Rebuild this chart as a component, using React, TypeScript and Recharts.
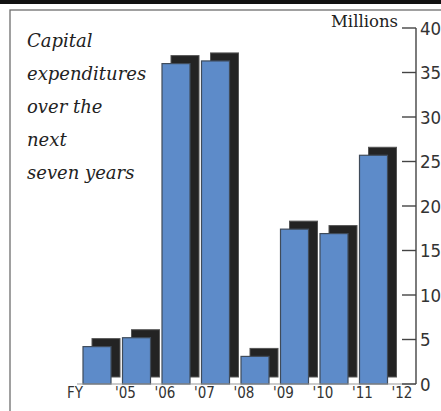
import React from "react";
import { BarChart, Bar, XAxis, YAxis } from "recharts";

const xLabels = ["FY", "'05", "'06", "'07", "'08", "'09", "'10", "'11", "'12"];
const capex = [4.2, 5.2, 36.0, 36.3, 3.1, 17.4, 16.9, 25.7];
const yTicks = [0, 5, 10, 15, 20, 25, 30, 35, 40];
const titleLines = ["Capital", "expenditures", "over the", "next", "seven years"];
const unitLabel = "Millions";

const data = capex.map((v, i) => ({ label: xLabels[i], value: v }));

const W = 441;
const H = 411;
const BLUE = "#5d8bc9";
const SHADOW = "#232323";

const ShadowBar = (props: any) => {
  const { x, y, width, height } = props;
  if (width == null || height == null) return null;
  return (
    <g>
      <rect x={x + 9} y={y - 8} width={width} height={height + 1} fill={SHADOW} stroke="#555" strokeWidth={1} />
      <rect x={x} y={y} width={width} height={height} fill={BLUE} stroke="#3f4b5a" strokeWidth={1.2} />
    </g>
  );
};

const XTick = (props: any) => {
  const { x, y, payload } = props;
  const half = payload && payload.offset ? payload.offset : 19.7;
  const idx = payload.index ?? 0;
  const start = x - half;
  const font = { fontSize: 15, fontFamily: "DejaVu Sans Condensed, DejaVu Sans", fill: "#333" };
  return (
    <g>
      {idx === 0 ? (
        <text x={start + 6} y={y + 14} textAnchor="end" {...font}>{xLabels[0]}</text>
      ) : (
        <text x={start + 9} y={y + 14} textAnchor="middle" {...font}>{xLabels[idx]}</text>
      )}
      {idx === capex.length - 1 ? (
        <text x={start + 2 * half + 9} y={y + 14} textAnchor="middle" {...font}>{xLabels[xLabels.length - 1]}</text>
      ) : null}
    </g>
  );
};

const YTick = (props: any) => {
  const { x, y, payload } = props;
  return (
    <g>
      <line x1={x - 14} x2={x} y1={y} y2={y} stroke="#444" strokeWidth={1.4} />
      <text x={x + 4} y={y} dy="0.36em" fontSize={18.5} fontFamily="DejaVu Sans Condensed, DejaVu Sans" fill="#333">
        {payload.value}
      </text>
    </g>
  );
};

export default function App() {
  return (
    <div style={{ position: "absolute", left: 0, top: 0, width: W, height: H, background: "#fff", overflow: "hidden" }}>
      <svg width={W} height={H} style={{ position: "absolute", left: 0, top: 0 }}>
        <rect x={0} y={0} width={W} height={4} fill="#111" />
        <rect x={10} y={10} width={W + 20} height={H + 20} fill="none" stroke="#6e6e6e" strokeWidth={1.3} />
      </svg>
      <div style={{ position: "absolute", left: 0, top: 0 }}>
        <BarChart width={W} height={H} data={data} margin={{ top: 28, right: 0, bottom: 0, left: 77 }}>
          <XAxis
            dataKey="label"
            height={27}
            tickSize={0}
            tickMargin={0}
            tickLine={false}
            interval={0}
            axisLine={{ stroke: "#999", strokeWidth: 1.2 }}
            padding={{ left: 0, right: 23 }}
            tick={<XTick />}
          />
          <YAxis
            orientation="right"
            width={25}
            domain={[0, 40]}
            ticks={yTicks}
            interval={0}
            tickSize={0}
            tickMargin={0}
            tickLine={false}
            axisLine={{ stroke: "#444", strokeWidth: 1.4 }}
            tick={<YTick />}
          />
          <Bar dataKey="value" barSize={28} shape={ShadowBar} isAnimationActive={false} />
        </BarChart>
      </div>
      <svg width={W} height={H} style={{ position: "absolute", left: 0, top: 0, pointerEvents: "none" }}>
        {titleLines.map((t, i) => (
          <text key={t} x={27} y={47 + i * 33} fontSize={18} fontStyle="italic" fontFamily="DejaVu Serif" fill="#222">
            {t}
          </text>
        ))}
        <text x={398} y={27} textAnchor="end" fontSize={16.5} fontFamily="DejaVu Serif" fill="#222">
          {unitLabel}
        </text>
      </svg>
    </div>
  );
}
